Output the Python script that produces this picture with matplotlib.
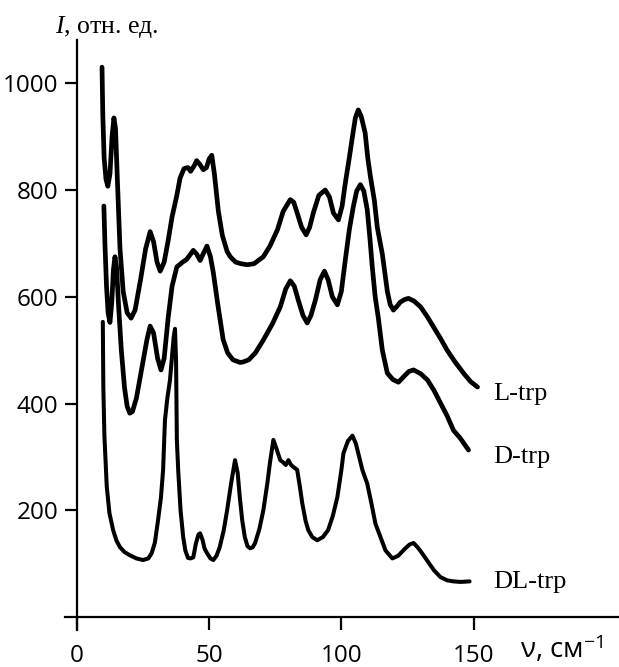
import numpy as np
import matplotlib
matplotlib.use("Agg")
from matplotlib import pyplot as plt

plt.rcParams['mathtext.fontset'] = 'custom'
plt.rcParams['mathtext.rm'] = 'Liberation Serif'
plt.rcParams['mathtext.it'] = 'Liberation Serif:italic'
plt.rcParams['mathtext.sf'] = 'Open Sans'

#%% data
l_x = [9.5, 9.8, 10.3, 11.0, 11.7, 12.5, 13.3, 14.0, 14.6, 15.3, 16.3, 17.5, 19.0, 20.5,
       22.0, 24.0, 26.0, 27.7, 29.0, 30.3, 31.5, 33.0, 34.5, 36.0, 37.8, 39.0, 40.5, 42.0,
       43.0, 44.3, 45.3, 46.5, 47.8, 49.0, 50.0, 51.0, 52.0, 53.5, 55.0, 56.8, 58.0, 60.0,
       62.0, 64.4, 67.0, 70.5, 73.0, 75.8, 78.0, 80.7, 82.0, 83.3, 85.0, 86.7, 88.0, 89.4,
       91.5, 93.9, 95.5, 97.0, 98.9, 100.3, 101.5, 103.0, 104.2, 105.3, 106.4, 107.5, 109.0,
       110.0, 111.0, 112.5, 113.6, 115.5, 117.4, 118.5, 119.7, 121.0, 122.3, 124.0, 125.4,
       127.5, 130.0, 132.6, 134.8, 137.5, 140.0, 143.0, 146.2, 148.9, 151.5]
l_y = [1030, 940, 860, 820, 807, 830, 900, 935, 915, 820, 690, 610, 570, 560,
       575, 630, 690, 722, 703, 665, 648, 665, 705, 750, 790, 822, 840, 842,
       835, 845, 855, 848, 838, 842, 858, 865, 830, 760, 715, 685, 675, 665,
       662, 660, 662, 675, 695, 725, 760, 782, 777, 757, 730, 716, 730, 757,
       790, 800, 787, 757, 744, 770, 813, 860, 900, 935, 950, 938, 907,
       860, 825, 780, 730, 680, 610, 585, 575, 582, 590, 595, 597,
       592, 581, 562, 544, 522, 500, 478, 457, 441, 431]

d_x = [10.2, 10.6, 11.2, 11.8, 12.5, 13.2, 13.8, 14.4, 15.0, 15.8, 16.8, 18.0, 19.0, 20.0,
       21.0, 22.5, 24.5, 26.5, 27.7, 29.0, 30.5, 31.8, 33.0, 34.5, 36.0, 37.8, 40.0, 41.5,
       43.0, 44.0, 45.3, 46.6, 48.0, 49.2, 50.5, 51.6, 53.3, 55.3, 57.0, 59.0, 61.7, 62.9,
       65.0, 67.5, 70.5, 74.0, 76.9, 79.0, 80.7, 82.2, 83.7, 85.5, 87.1, 88.5, 90.2, 92.0,
       93.6, 95.0, 96.6, 98.5, 100.0, 101.5, 103.0, 104.5, 105.8, 107.2, 108.5, 109.8, 110.8,
       111.7, 112.8, 114.0, 115.5, 117.4, 119.5, 121.6, 123.5, 125.5, 127.3, 130.0, 132.6,
       135.0, 137.5, 140.0, 142.4, 145.0, 148.1]
d_y = [770, 700, 620, 570, 552, 590, 650, 675, 655, 580, 500, 430, 395, 382,
       385, 410, 465, 520, 545, 532, 485, 463, 485, 560, 620, 656, 665, 670,
       680, 687, 680, 668, 683, 695, 675, 645, 585, 520, 495, 482, 477, 478,
       482, 495, 519, 550, 581, 615, 630, 620, 594, 565, 551, 565, 594, 632,
       648, 632, 600, 585, 610, 669, 725, 768, 798, 810, 798, 763, 710,
       656, 600, 560, 500, 457, 445, 440, 450, 460, 463, 456, 444,
       425, 401, 377, 350, 335, 313]

dl_x = [9.8, 10.0, 10.4, 11.3, 12.3, 13.7, 15.0, 16.3, 18.0, 20.0, 22.5, 25.0, 27.0, 28.3,
        29.5, 30.7, 31.8, 32.6, 33.3, 34.2, 35.2, 36.0, 36.6, 37.1, 37.5, 37.8, 38.3, 39.2,
        40.2, 41.0, 42.0, 43.0, 44.0, 45.0, 46.0, 46.6, 47.5, 48.3, 49.2, 50.5, 51.6, 52.8,
        54.0, 55.5, 56.8, 58.3, 59.8, 60.8, 61.6, 62.5, 63.5, 64.5, 65.5, 66.5, 67.4, 69.0,
        70.5, 72.0, 73.0, 74.3, 75.5, 76.9, 78.0, 79.0, 80.0, 81.0, 82.2, 83.3, 84.3, 85.2,
        86.5, 87.5, 89.0, 90.9, 93.0, 95.0, 96.8, 98.5, 100.0, 100.8, 102.5, 104.2, 105.5,
        106.4, 108.0, 109.8, 111.5, 112.9, 114.8, 116.7, 119.3, 121.5, 124.0, 125.8, 127.3,
        129.0, 130.5, 132.6, 135.0, 137.5, 140.0, 142.4, 145.0, 148.5]
dl_y = [553, 430, 340, 244, 195, 163, 143, 131, 122, 116, 110, 107, 110, 120,
        140, 182, 225, 276, 369, 410, 444, 490, 525, 540, 480, 332, 276, 200,
        150, 125, 111, 110, 112, 138, 155, 157, 145, 128, 120, 110, 107, 115,
        131, 162, 200, 250, 294, 270, 225, 182, 150, 133, 129, 131, 139, 165,
        200, 250, 289, 332, 315, 294, 290, 285, 294, 285, 280, 276, 245, 214,
        180, 163, 150, 144, 150, 163, 190, 225, 275, 307, 330, 340, 325,
        307, 275, 250, 210, 175, 150, 125, 110, 115, 128, 136, 139,
        130, 120, 105, 88, 75, 69, 67, 66, 67]

names = ['L-trp', 'D-trp', 'DL-trp']
name_y = [407, 289, 54]
x_ticks = [0, 50, 100, 150]
y_ticks = [200, 400, 600, 800, 1000]

#%% figure
fig = plt.figure(figsize=(6.19, 6.67), dpi=100)
ax = fig.add_axes([0.105, 0.0555, 0.895, 0.8846])

ax.plot(l_x, l_y, color='black', lw=3.4, solid_joinstyle='round', solid_capstyle='round')
ax.plot(d_x, d_y, color='black', lw=3.4, solid_joinstyle='round', solid_capstyle='round')
ax.plot(dl_x, dl_y, color='black', lw=2.9, solid_joinstyle='round', solid_capstyle='round')

for n, yy in zip(names, name_y):
    ax.text(157.6, yy, n, fontsize=19, family='Liberation Serif', va='baseline', ha='left')

ax.set_xlim(-4.5, 205)
ax.set_ylim(-24, 1081)
for s in ['top', 'right']:
    ax.spines[s].set_visible(False)
ax.spines['left'].set_position(('data', 0))
ax.spines['bottom'].set_position(('data', 0))
ax.spines['left'].set_linewidth(1.6)
ax.spines['bottom'].set_linewidth(1.6)

ax.set_xticks(x_ticks)
ax.set_yticks(y_ticks)
ax.tick_params(axis='x', direction='out', length=9.5, width=1.6, pad=10,
               labelsize=17.5, labelfontfamily='Open Sans')
ax.tick_params(axis='y', direction='out', length=8.6, width=1.6, pad=5,
               labelsize=17.5, labelfontfamily='Open Sans')

fig.text(55/619, 1 - 33/667, '$I$, отн. ед.', fontsize=18.5,
         family='Liberation Serif', va='baseline', ha='left')
fig.text(520/619, 1 - 658/667, 'ν, см$^{\\mathsf{-1}}$', fontsize=20,
         family='Open Sans', va='baseline', ha='left')

fig.savefig('out.png', dpi=100)
